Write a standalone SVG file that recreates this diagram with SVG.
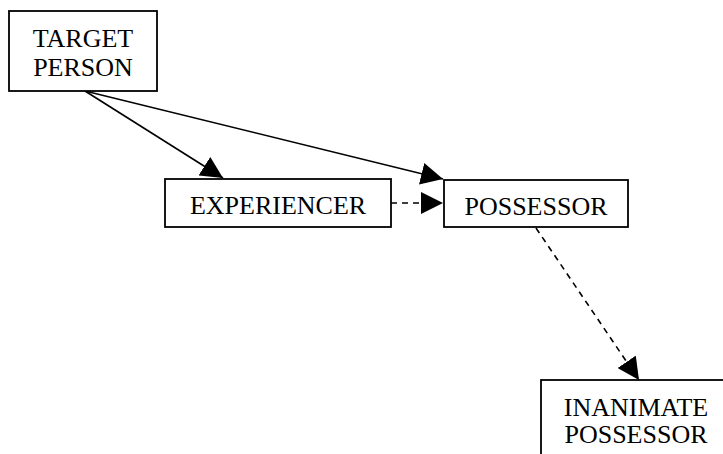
<svg xmlns="http://www.w3.org/2000/svg" width="723" height="454" viewBox="0 0 723 454">
<defs>
<style>
.box{fill:#fff;stroke:#000;stroke-width:1.8}
.lbl{font-family:"Liberation Serif","Times New Roman",serif;font-size:26px;fill:#000;text-anchor:middle}
.edge{stroke:#000;stroke-width:1.6;fill:none}
.dash{stroke-dasharray:6,5}
</style>
<marker id="ah" markerUnits="userSpaceOnUse" markerWidth="22" markerHeight="22" viewBox="0 0 20 20" refX="20" refY="10" orient="auto">
<path d="M0,0 L20,10 L0,20 Z" fill="#000"/>
</marker>
</defs>
<rect width="723" height="454" fill="#fff"/>
<g id="connectors">
<line class="edge" x1="85" y1="91" x2="223" y2="178" marker-end="url(#ah)"/>
<line class="edge" x1="85" y1="91" x2="443" y2="179" marker-end="url(#ah)"/>
<line class="edge dash" x1="391" y1="203" x2="443" y2="203" marker-end="url(#ah)"/>
<line class="edge dash" x1="536" y1="228" x2="639" y2="380" marker-end="url(#ah)"/>
</g>
<g id="target-person">
<rect class="box" x="9" y="11" width="148" height="80"/>
<text class="lbl" x="83" y="47">TARGET</text>
<text class="lbl" x="83" y="76">PERSON</text>
</g>
<g id="experiencer">
<rect class="box" x="165" y="179" width="226" height="48"/>
<text class="lbl" x="278" y="214">EXPERIENCER</text>
</g>
<g id="possessor">
<rect class="box" x="444" y="180" width="184" height="47"/>
<text class="lbl" x="536" y="215">POSSESSOR</text>
</g>
<g id="inanimate-possessor">
<rect class="box" x="541" y="380" width="190" height="100"/>
<text class="lbl" x="636" y="416">INANIMATE</text>
<text class="lbl" x="636" y="443">POSSESSOR</text>
</g>
</svg>
